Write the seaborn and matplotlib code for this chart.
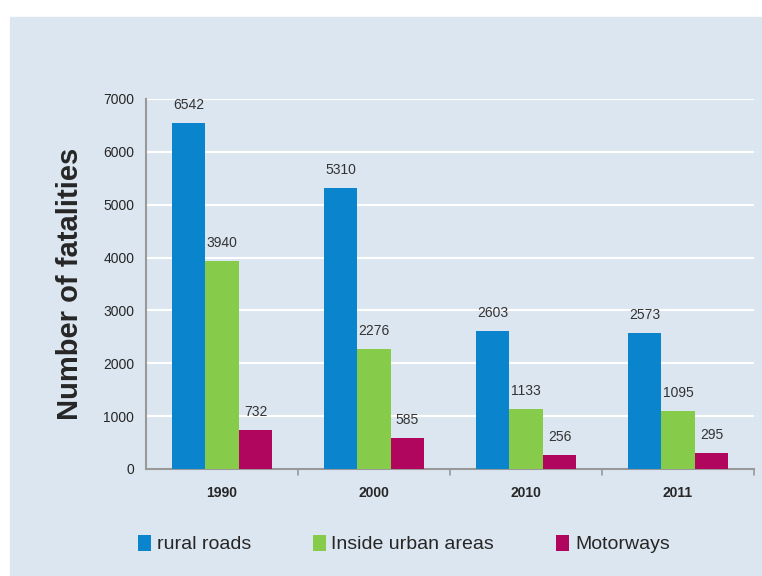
import pandas as pd
import matplotlib.pyplot as plt
import seaborn as sns
from matplotlib.patches import Rectangle

# Values
years = ['1990', '2000', '2010', '2011']
road_types = ['rural roads', 'Inside urban areas', 'Motorways']
rural_roads = [6542, 5310, 2603, 2573]
urban_areas = [3940, 2276, 1133, 1095]
motorways = [732, 585, 256, 295]
colors = ['#0a84cc', '#86cc4a', '#b0065e']

df = pd.DataFrame({
    'year': years * 3,
    'type': [road_types[0]] * 4 + [road_types[1]] * 4 + [road_types[2]] * 4,
    'fatalities': rural_roads + urban_areas + motorways,
})

sns.set_style('white')
plt.rcParams['font.family'] = ['Liberation Sans', 'DejaVu Sans']

bg = '#dce6f0'
fig = plt.figure(figsize=(7.62, 5.76), dpi=100)
fig.patches.append(Rectangle((10 / 762, 0), 752 / 762, 559 / 576,
                             transform=fig.transFigure, color=bg, zorder=-10))
ax = fig.add_axes([146 / 762, 107 / 576, 608 / 762, 370 / 576])
ax.set_facecolor(bg)

sns.barplot(data=df, x='year', y='fatalities', hue='type', hue_order=road_types,
            palette=colors, width=0.66, saturation=1, linewidth=0, ax=ax, zorder=3)

for container in ax.containers:
    ax.bar_label(container, padding=8, fontsize=10, color='#333333')

ax.set_ylim(0, 7000)
ax.set_yticks(range(0, 7001, 1000))
ax.yaxis.grid(True, color='white', linewidth=1.5, zorder=0)
ax.set_axisbelow(True)
for s in ['top', 'right']:
    ax.spines[s].set_visible(False)
for s in ['left', 'bottom']:
    ax.spines[s].set_color('#999999')
    ax.spines[s].set_linewidth(1.5)

ax.set_xlim(-0.5, 3.5)
ax.set_xticks([0, 1, 2, 3])
ax.set_xticklabels(years, fontweight='bold', fontsize=10)
ax.tick_params(axis='x', length=0, pad=12)
ax.tick_params(axis='y', length=5, color='#999999', labelsize=10)
for b in [0.5, 1.5, 2.5, 3.5]:
    ax.plot([b, b], [0, -0.015], transform=ax.get_xaxis_transform(),
            color='#999999', lw=1.2, clip_on=False)

ax.set_xlabel('')
ax.set_ylabel('Number of fatalities', fontsize=21, fontweight='bold', labelpad=14)

handles, labels = ax.get_legend_handles_labels()
ax.legend_.remove()
fig.legend(handles, labels, loc='center', bbox_to_anchor=(0.530, 32 / 576), ncol=3,
           frameon=False, fontsize=14, handlelength=0.65, handleheight=0.9,
           handletextpad=0.3, columnspacing=3.2)

fig.savefig('out.png', dpi=100)
